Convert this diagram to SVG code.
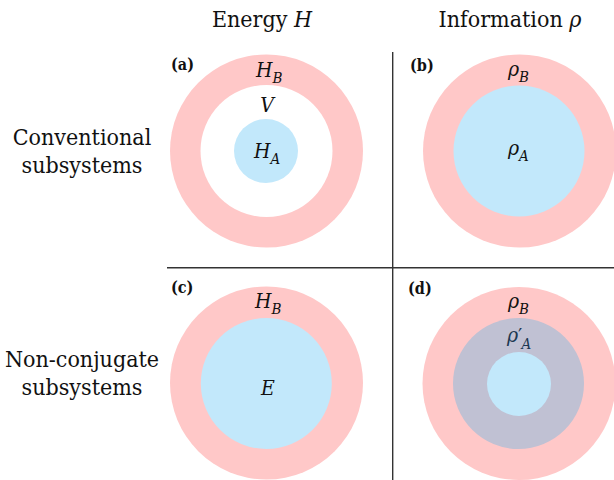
<svg xmlns="http://www.w3.org/2000/svg" width="614" height="480" viewBox="0 0 614 480">
<style>
text{font-family:"DejaVu Serif Condensed","DejaVu Serif",serif;font-stretch:condensed;fill:#111}
.h{font-size:23px}
.p{font-size:16px;font-weight:bold}
.m{font-style:italic;font-size:21px}
.s{font-size:15px}
.pink{fill:#ffc8c8}
.blue{fill:#c2e8fb}
.gray{fill:#c0c1d3}
.ln{stroke:#333;stroke-width:1.4;fill:none}
</style>
<rect width="614" height="480" fill="#fff"/>
<g id="headers">
<text class="h" x="262" y="27" text-anchor="middle">Energy <tspan font-style="italic">H</tspan></text>
<text class="h" x="510" y="27" text-anchor="middle">Information <tspan font-style="italic">ρ</tspan></text>
<text class="h" x="82" y="145" text-anchor="middle">Conventional</text>
<text class="h" x="82" y="173" text-anchor="middle">subsystems</text>
<text class="h" x="82" y="367" text-anchor="middle">Non-conjugate</text>
<text class="h" x="82" y="395" text-anchor="middle">subsystems</text>
</g>
<g id="connectors">
<line class="ln" x1="392.7" y1="52" x2="392.7" y2="480"/>
<line class="ln" x1="167" y1="267.7" x2="614" y2="267.7"/>
</g>
<g id="panel-a">
<circle class="pink" cx="266.5" cy="151" r="96.5"/>
<circle fill="#fff" cx="266.5" cy="151" r="66"/>
<circle class="blue" cx="266" cy="151" r="32"/>
<text class="p" x="171" y="70">(a)</text>
<text class="m" x="256" y="77">H<tspan class="s" dy="6">B</tspan></text>
<text class="m" x="267" y="112" text-anchor="middle">V</text>
<text class="m" x="254" y="158">H<tspan class="s" dy="6">A</tspan></text>
</g>
<g id="panel-b">
<circle class="pink" cx="519.5" cy="151" r="96.5"/>
<circle class="blue" cx="519" cy="151" r="65.5"/>
<text class="p" x="410" y="71">(b)</text>
<text class="m" x="508" y="76">ρ<tspan class="s" dy="6">B</tspan></text>
<text class="m" x="508" y="155">ρ<tspan class="s" dy="6">A</tspan></text>
</g>
<g id="panel-c">
<circle class="pink" cx="266.5" cy="383" r="96.5"/>
<circle class="blue" cx="266.3" cy="383.5" r="65.5"/>
<text class="p" x="171" y="293">(c)</text>
<text class="m" x="255" y="308">H<tspan class="s" dy="6">B</tspan></text>
<text class="m" x="268" y="395" text-anchor="middle">E</text>
</g>
<g id="panel-d">
<circle class="pink" cx="519" cy="383.5" r="96.5"/>
<circle class="gray" cx="518.5" cy="383.5" r="65.5"/>
<circle class="blue" cx="519" cy="384" r="32"/>
<text class="p" x="408" y="294">(d)</text>
<text class="m" x="508" y="308">ρ<tspan class="s" dy="6">B</tspan></text>
<text class="m" x="507" y="342" style="fill:#1c3852">ρ<tspan style="font-style:normal;font-size:21px" dy="1">′</tspan><tspan class="s" dy="6" dx="-1">A</tspan></text>
</g>
</svg>
